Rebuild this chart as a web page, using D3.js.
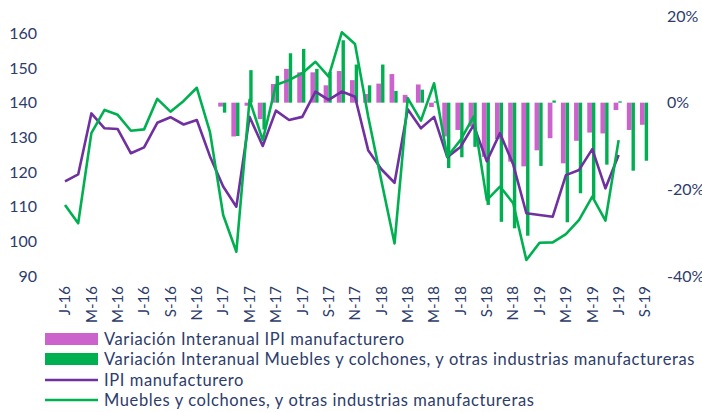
<!DOCTYPE html>
<html>
<head>
<meta charset="utf-8">
<script src="https://cdn.jsdelivr.net/npm/d3@7"></script>
<style>
body{margin:0;background:#fff}
text{font-family:Lato,"Open Sans",sans-serif;fill:#2E3C6B}
</style>
</head>
<body>
<div id="chart"></div>
<script>
// months Jan-16 .. Sep-19
const months=["2016-01","2016-02","2016-03","2016-04","2016-05","2016-06","2016-07","2016-08","2016-09","2016-10","2016-11","2016-12",
"2017-01","2017-02","2017-03","2017-04","2017-05","2017-06","2017-07","2017-08","2017-09","2017-10","2017-11","2017-12",
"2018-01","2018-02","2018-03","2018-04","2018-05","2018-06","2018-07","2018-08","2018-09","2018-10","2018-11","2018-12",
"2019-01","2019-02","2019-03","2019-04","2019-05","2019-06","2019-07","2019-08","2019-09"]

const tickLabels=["J-16","M-16","M-16","J-16","S-16","N-16","J-17","M-17","M-17","J-17","S-17","N-17",
"J-18","M-18","M-18","J-18","S-18","N-18","J-19","M-19","M-19","J-19","S-19"]

// IPI manufacturero (Jan-16 .. Jul-19)
const ipi=[117.3,119.3,136.9,132.6,132.4,125.4,127.1,134.2,135.8,133.7,135.0,124.5,
115.8,110.0,135.9,127.5,137.7,135.0,135.9,143.2,140.8,143.2,141.7,126.3,
120.8,116.9,138.1,132.6,135.9,124.3,127.2,133.5,123.1,131.2,122.2,108.1,
107.6,107.1,119.1,120.6,126.6,115.3,124.9]

// Muebles y colchones, y otras industrias manufactureras
const muebles=[110.5,105.2,131.2,137.9,136.5,131.9,132.3,141.1,137.4,140.5,144.3,131.5,
107.6,97.0,140.8,129.2,145.1,146.5,148.5,151.8,147.5,160.3,156.9,136.0,
117.5,99.4,141.3,134.8,145.6,124.4,129.2,136.0,111.9,115.8,111.0,94.6,
99.6,99.7,102.1,106.2,112.9,106.0,129.2]

// year-on-year variation (Jan-17 .. Sep-19), %
const varIpi=[-0.9,-7.8,-0.7,-3.8,4.3,7.8,7.0,7.0,4.0,7.3,5.2,2.0,
4.4,6.6,1.8,4.2,-1.0,-7.8,-6.3,-5.5,-12.5,-8.4,-13.6,-14.7,
-11.0,-8.2,-14.0,-8.8,-6.9,-7.1,-1.7,-6.3,-5.1]

const varMuebles=[-2.3,-7.7,7.5,-6.2,6.2,11.4,12.4,7.8,7.1,14.4,8.8,4.0,
8.8,2.7,0.3,3.0,0.3,-15.1,-12.6,-10.2,-23.6,-27.5,-29.0,-30.7,
-14.6,0.5,-27.6,-20.9,-22.2,-14.3,0.3,-15.7,-13.4]

const legendItems=[
  {label:"Variación Interanual IPI manufacturero",type:"bar",color:"#CC62CC"},
  {label:"Variación Interanual Muebles y colchones, y otras industrias manufactureras",type:"bar",color:"#00B050"},
  {label:"IPI manufacturero",type:"line",color:"#7030A0"},
  {label:"Muebles y colchones, y otras industrias manufactureras",type:"line",color:"#00B050"}
]

const width=702
const height=412

const svg=d3.select("#chart")
.append("svg")
.attr("width",width)
.attr("height",height)

const x=d3.scalePoint()
.domain(months)
.range([65,645])

const yL=d3.scaleLinear()
.domain([90,165])
.range([276,16])

const yR=d3.scaleLinear()
.domain([-0.4,0.2])
.range([276,16])

// bars
const barMonths=months.slice(12)

svg.append("g")
.selectAll("rect")
.data(varIpi)
.join("rect")
.attr("x",(d,i)=>x(barMonths[i])-5)
.attr("width",4.7)
.attr("y",d=>yR(Math.max(0,d/100)))
.attr("height",d=>Math.abs(yR(d/100)-yR(0)))
.attr("fill","#CC62CC")

svg.append("g")
.selectAll("rect")
.data(varMuebles)
.join("rect")
.attr("x",(d,i)=>x(barMonths[i])-0.3)
.attr("width",3.4)
.attr("y",d=>yR(Math.max(0,d/100)))
.attr("height",d=>Math.abs(yR(d/100)-yR(0)))
.attr("fill","#00B050")

// lines
const line=d3.line()
.x((d,i)=>x(months[i]))
.y(d=>yL(d))

svg.append("path")
.datum(ipi)
.attr("d",line)
.attr("fill","none")
.attr("stroke","#7030A0")
.attr("stroke-width",2.6)
.attr("stroke-linejoin","round")

svg.append("path")
.datum(muebles)
.attr("d",line)
.attr("fill","none")
.attr("stroke","#00B050")
.attr("stroke-width",2.6)
.attr("stroke-linejoin","round")

// left axis
const axL=svg.append("g")
.attr("transform","translate(37,0)")
.call(d3.axisLeft(yL).tickValues(d3.range(90,161,10)).tickSize(0).tickPadding(0))
axL.select(".domain").remove()
axL.selectAll("text").style("font-size","16px").attr("fill","#2E3C6B")

// right axis
const axR=svg.append("g")
.attr("transform","translate(667,0)")
.call(d3.axisRight(yR).tickValues([-0.4,-0.2,0,0.2]).tickSize(0).tickPadding(0)
  .tickFormat(d=>Math.round(d*100)+"%"))
axR.select(".domain").remove()
axR.selectAll("text").style("font-size","16px").attr("fill","#2E3C6B")

// x labels, every second month
svg.append("g")
.selectAll("text")
.data(tickLabels)
.join("text")
.attr("transform",(d,i)=>`translate(${x(months[i*2])},286) rotate(-90)`)
.attr("dy","0.35em")
.attr("text-anchor","end")
.style("font-size","15px")
.text(d=>d)

// legend
const leg=svg.append("g")
const rowY=[339,359,380,400]

leg.selectAll("g")
.data(legendItems)
.join("g")
.attr("transform",(d,i)=>`translate(45,${rowY[i]})`)
.each(function(d){
  const g=d3.select(this)
  if(d.type==="bar"){
    g.append("rect").attr("x",0).attr("y",-6).attr("width",53).attr("height",12).attr("fill",d.color)
  }else{
    g.append("line").attr("x1",0).attr("x2",53).attr("y1",0).attr("y2",0)
    .attr("stroke",d.color).attr("stroke-width",2.6)
  }
  g.append("text")
  .attr("x",59)
  .attr("dy","0.35em")
  .style("font-size","16.5px")
  .style("letter-spacing","0.6px")
  .text(d.label)
})
</script>
</body>
</html>
